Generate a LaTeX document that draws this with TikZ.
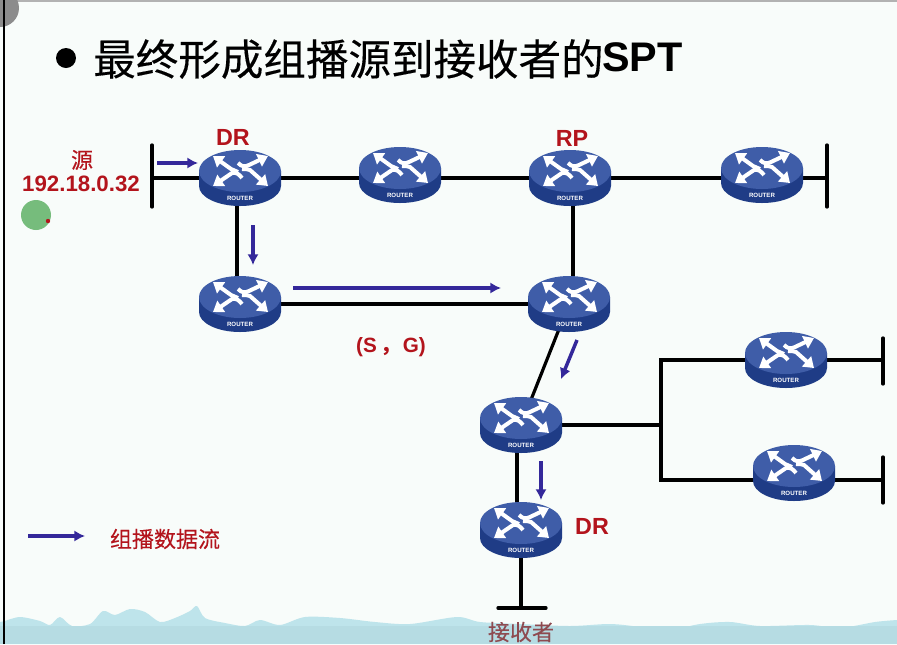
\documentclass[tikz,border=0pt]{standalone}
\usepackage{fontspec}
\setmainfont{Liberation Sans}
\newfontfamily\cjk{Noto Sans CJK SC}
\newfontfamily\cjkm[FakeBold=0.25]{Noto Sans CJK SC}
\usetikzlibrary{arrows.meta,shapes.geometric}
\definecolor{bgc}{HTML}{F8FCFA}
\definecolor{redt}{HTML}{B3141C}
\definecolor{flow}{HTML}{34289A}
\definecolor{rtop}{HTML}{3F5DA8}
\definecolor{rside}{HTML}{1F3C86}
\definecolor{wavea}{HTML}{BEE4EB}
\definecolor{waveb}{HTML}{B6DCE3}
\definecolor{cgreen}{HTML}{76BC7C}
\definecolor{recvc}{HTML}{8E4A50}
\tikzset{
  routerbox/.style={ellipse,minimum width=60pt,minimum height=42pt,inner sep=0pt,outer sep=0pt},
  link/.style={draw=black,line width=2.4pt},
  bar/.style={draw=black,line width=2.5pt,line cap=round},
  flowarrow/.style={draw=flow,line width=2.6pt,-{Latex[length=8pt,width=8.5pt]}},
  redlabel/.style={text=redt,font=\bfseries\fontsize{16.7}{18}\selectfont,inner sep=0pt},
  drlabel/.style={text=redt,font=\bfseries\fontsize{17.5}{19}\selectfont,inner sep=0pt},
  cjkred/.style={text=redt,font=\cjkm\fontsize{16.5}{18}\selectfont,inner sep=0pt},
  rlabel/.style={text=white,font=\bfseries\fontsize{4.6}{5}\selectfont,inner sep=0pt},
  warrow/.style={draw=white,line width=3pt,line join=round,-{Triangle[length=7.5pt,width=10pt]}}
}
\newcommand{\routerart}[1]{%
  \begin{scope}[shift={(#1)}]
    \fill[rside] (-41,-7) -- (-41,8) arc[start angle=180,end angle=0,x radius=41,y radius=20] -- (41,-7) -- cycle;
    \fill[rtop] (0,-7) ellipse[x radius=41,y radius=21];
    \draw[warrow] (-2,-6) -- (-9,-9) -- (-27,-22);
    \draw[warrow] (-2,-15) .. controls (2,-11) and (5,-11) .. (9,-13) -- (28,-22);
    \draw[warrow] (2,0) .. controls (-1,-4) and (-4,-6) .. (-8,-5) -- (-27,8);
    \draw[warrow] (2,-9) .. controls (5,-9) and (8,-9) .. (10,-8) -- (28,8);
    \node[rlabel] (#1-label) at (0,20) {ROUTER};
  \end{scope}}
\begin{document}
\begin{tikzpicture}[x=0.75pt,y=-0.75pt]
\useasboundingbox (0,0) rectangle (897,644);
\fill[bgc] (0,0) rectangle (897,644);
\fill[black!30] (0,0) rectangle (897,2);
\fill[wavea] (0,644) -- (0,622) -- plot[smooth,tension=0.5] coordinates {(5,621) (20,617) (40,621) (50,625) (60,617) (72,626) (90,624) (103,611) (115,615) (130,609) (145,612) (160,622) (175,618) (190,611) (197,606) (205,618) (225,623) (245,626) (260,620) (280,625) (305,617) (340,618) (375,622) (410,624) (457,617) (480,622) (520,624) (570,626) (610,624) (640,627) (665,631) (700,624) (730,622) (760,626) (810,625) (840,628) (875,622) (897,620)} -- (897,644) -- cycle;
\fill[waveb] (0,626) rectangle (897,644);
\begin{scope}
\clip (0,0) rectangle (897,644);
\fill[black!45] (0,8) circle[radius=19];
\end{scope}
\draw[black,line width=1.6pt] (4,0) -- (4,644);
% title
\fill[black] (66,58) circle[radius=10];
\node[anchor=west,inner sep=0pt,font=\cjkm\fontsize{31.9}{35}\selectfont] (title) at (93,59) {最终形成组播源到接收者的};
\node[anchor=west,inner sep=0pt,font=\bfseries\fontsize{31}{33}\selectfont] (spt) at (602,57) {SPT};
% router placeholders
\foreach \n/\x/\y in {ra/240/178,rb/400/175,rc/570/178,rd/762/175,re/240/304,rf/569/304,rg/521/425,rh/786/360,ri/794/473,rj/521/530}
  \node[routerbox] (\n) at (\x,\y) {};
\coordinate (barAt) at (152,178);
\coordinate (barAa) at (152,145);
\coordinate (barAb) at (152,207);
\coordinate (barBt) at (827,178);
\coordinate (barBa) at (827,145);
\coordinate (barBb) at (827,207);
\coordinate (barCt) at (883,360);
\coordinate (barCa) at (883,338);
\coordinate (barCb) at (883,384);
\coordinate (barDt) at (883,480);
\coordinate (barDa) at (883,457);
\coordinate (barDb) at (883,503);
\coordinate (barEt) at (521,608);
\coordinate (barEa) at (498,608);
\coordinate (barEb) at (546,608);
\coordinate (junc) at (661,425);
\coordinate (juncT) at (661,360);
\coordinate (juncB) at (661,480);
% connectors
\draw[link] (barAt) -- (ra.center);
\draw[link] (ra.center) -- ([yshift=-2.25pt]rb.center);
\draw[link] ([yshift=-2.25pt]rb.center) -- (rc.center);
\draw[link] (rc.center) -- ([yshift=-2.25pt]rd.center);
\draw[link] ([yshift=-2.25pt]rd.center) -- (barBt);
\draw[link] ([xshift=-2.25pt]ra.center) -- ([xshift=-2.25pt]re.center);
\draw[link] ([xshift=2.25pt]rc.center) -- ([xshift=3pt]rf.center);
\draw[link] (re.center) -- (rf.center);
\draw[link] (rf.center) -- (rg.center);
\draw[link] (rg.center) -- (junc);
\draw[link,line cap=rect] (juncT) -- (juncB);
\draw[link] (juncT) -- (rh.center);
\draw[link] (rh.center) -- (barCt);
\draw[link] (juncB) -- ([yshift=-5.25pt]ri.center);
\draw[link] ([yshift=-5.25pt]ri.center) -- (barDt);
\draw[link] ([xshift=-3pt]rg.center) -- ([xshift=-3pt]rj.center);
\draw[link] (rj.center) -- (barEt);
\draw[bar] (barAa) -- (barAb);
\draw[bar] (barBa) -- (barBb);
\draw[bar] (barCa) -- (barCb);
\draw[bar] (barDa) -- (barDb);
\draw[bar] (barEa) -- (barEb);
% router art
\foreach \n in {ra,rb,rc,rd,re,rf,rg,rh,ri,rj} {\routerart{\n}}
% flow arrows
\coordinate (fa1) at (157,163); \coordinate (fa2) at (198,163);
\coordinate (fb1) at (253,225); \coordinate (fb2) at (253,265);
\coordinate (fc1) at (293,288); \coordinate (fc2) at (501,288);
\coordinate (fd1) at (577,340); \coordinate (fd2) at (561,379);
\coordinate (fe1) at (541,461); \coordinate (fe2) at (541,500);
\coordinate (ff1) at (28,536); \coordinate (ff2) at (85,536);
\draw[flowarrow] (fa1) -- (fa2);
\draw[flowarrow] (fb1) -- (fb2);
\draw[flowarrow] (fc1) -- (fc2);
\draw[flowarrow] (fd1) -- (fd2);
\draw[flowarrow] (fe1) -- (fe2);
\draw[flowarrow] (ff1) -- (ff2);
% labels
\node[cjkred] (yuan) at (82,160) {源};
\node[redlabel] (ip) at (81,184) {192.18.0.32};
\node[drlabel] (dr1) at (233,137) {DR};
\node[drlabel] (rp) at (572,138) {RP};
\node[drlabel] (dr2) at (592,526) {DR};
\node[redlabel,font=\bfseries\fontsize{15.5}{17}\selectfont] (sg) at (391,347) {(S\hspace{3pt}{\cjk ，}\hspace{1pt}G)};
\node[cjkred] (legend) at (165,539) {组播数据流};
\node[text=recvc,inner sep=0pt,font=\cjkm\fontsize{16.5}{18}\selectfont] (recv) at (521,632) {接收者};
% pointer
\fill[cgreen] (36,215) circle[radius=15];
\fill[redt] (48,221) circle[radius=2.2];
\end{tikzpicture}
\end{document}
